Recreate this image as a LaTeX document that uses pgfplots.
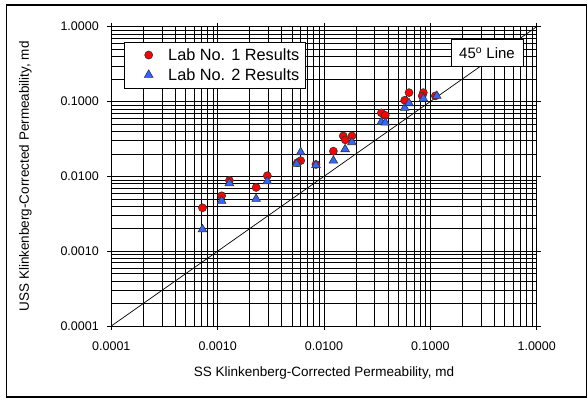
\documentclass[border=0pt]{standalone}
\usepackage{pgfplots}
\pgfplotsset{compat=1.18}
\usepackage{fontspec}
\setmainfont{Liberation Sans}
\definecolor{labred}{RGB}{255,0,0}
\definecolor{labblue}{RGB}{51,102,255}
\begin{document}
\begin{tikzpicture}[x=1pt,y=1pt]
\path (0,0) rectangle (588,400);
\draw[line width=1.5pt] (6.5,3) rectangle (586.5,395);
\begin{axis}[
 at={(111.3pt,74pt)}, anchor=south west,
 scale only axis, width=425.4pt, height=299.3pt,
 xmode=log, ymode=log,
 xmin=1e-4, xmax=1, ymin=1e-4, ymax=1,
 xtick={1e-4,1e-3,1e-2,1e-1,1},
 xticklabels={0.0001,0.0010,0.0100,0.1000,1.0000},
 ytick={1e-4,1e-3,1e-2,1e-1,1},
 yticklabels={0.0001,0.0010,0.0100,0.1000,1.0000},
 grid=both,
 major grid style={black, line width=0.7pt},
 minor grid style={black, line width=0.55pt},
 tick align=outside, major tick length=4pt, minor tick length=0pt,
 tick style={black, line width=0.7pt},
 axis line style={black, line width=0.8pt},
 ticklabel style={font=\fontsize{12.5}{14}\selectfont},
 xticklabel style={yshift=-8pt},
 yticklabel style={xshift=-5pt},
 xlabel={SS Klinkenberg-Corrected Permeability, md},
 ylabel={USS Klinkenberg-Corrected Permeability, md},
 every axis x label/.style={at={(axis description cs:0.5,-0.157)}, anchor=center, font=\fontsize{13.5}{15}\selectfont},
 every axis y label/.style={at={(axis description cs:-0.2022,0.5)}, anchor=center, rotate=90, font=\fontsize{13.5}{15}\selectfont},
 legend style={at={(axis description cs:0,1)}, anchor=north west, xshift=12.7pt, yshift=-15pt, draw=black, fill=white, font=\fontsize{16.3}{18}\selectfont, row sep=2.5pt, inner xsep=4pt, inner ysep=4.5pt},
 legend cell align=left,
 legend image code/.code={\path[draw=none] (0pt,0pt) -- (29pt,0pt); \path[#1, draw=none] plot coordinates {(20.5pt,0pt)};},
]
\addplot[only marks, mark=*, mark size=4pt, mark options={fill=labred, draw=black!80, line width=0.6pt}] table {
x y
0.00072 0.0038
0.00109 0.0055
0.00129 0.0088
0.00230 0.0071
0.00293 0.0102
0.00604 0.0162
0.00561 0.0152
0.0084 0.0144
0.01226 0.0217
0.01517 0.0347
0.01585 0.0307
0.01833 0.0347
0.0346 0.0705
0.0377 0.0656
0.0574 0.104
0.0630 0.1315
0.0859 0.1315
0.0839 0.1189
0.1114 0.1189
};
\addlegendentry{\hspace{9pt}Lab No. 1 Results}
\addplot[only marks, mark=triangle*, mark size=5pt, mark options={fill=labblue, draw=black!80, line width=0.6pt}] table {
x y
0.00072 0.00196
0.00109 0.0047
0.00129 0.0081
0.00230 0.0050
0.00293 0.0086
0.00604 0.0210
0.00553 0.0147
0.0084 0.0141
0.01226 0.0162
0.0158 0.0230
0.01833 0.0286
0.0346 0.0533
0.0377 0.0522
0.0574 0.0821
0.0630 0.0949
0.0859 0.1094
0.115 0.1189
};
\addlegendentry{\hspace{9pt}Lab No. 2 Results}
\addplot[black, line width=0.7pt, forget plot] coordinates {(1e-4,1e-4) (1,1)};
\node[draw=black, fill=white, line width=0.8pt, minimum width=72pt, minimum height=26.7pt, inner sep=0pt, font=\fontsize{15}{17}\selectfont] at (axis cs:0.341,0.443) {45\textsuperscript{o} Line};
\end{axis}
\end{tikzpicture}
\end{document}
